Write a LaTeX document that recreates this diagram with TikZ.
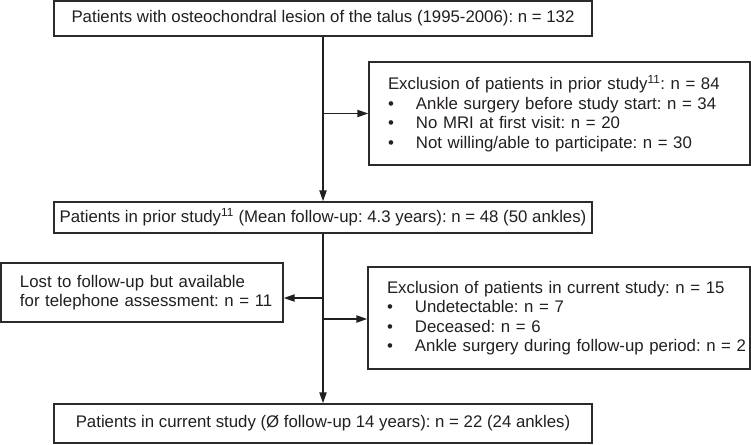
\documentclass[tikz,border=0pt]{standalone}
\usepackage{fontspec}
\setmainfont{Liberation Sans}
\usepackage{tikz}
\usetikzlibrary{arrows.meta, positioning, calc}
\definecolor{mydark}{RGB}{35,31,32}
\definecolor{myline}{RGB}{45,42,43}
\tikzset{
  mainbox/.style={rectangle, draw=myline, fill=white, line width=1.2pt,
    align=center, minimum width=538pt, inner sep=0pt, text=mydark,
    font=\fontsize{16.8}{19.5}\selectfont\frenchspacing},
  listbox/.style={rectangle, draw=myline, fill=white, line width=1.2pt,
    align=left, inner sep=0pt, text=mydark,
    execute at begin node={\leftskip=19pt},
    font=\fontsize{16.8}{19.5}\selectfont\frenchspacing},
  arrow/.style={-{Triangle[length=11pt,width=7pt]}, line width=1.9pt, color=mydark}
}
\newcommand{\bul}{\makebox[28pt][l]{\textbullet}}

\begin{document}
\frenchspacing
\begin{tikzpicture}[x=1pt, y=-1pt]
  \useasboundingbox (0,0) rectangle (751,444);

  \node[mainbox, minimum height=35pt] (total) at (323,18.5)
    {Patients with osteochondral lesion of the talus (1995-2006): n = 132};
  \node[listbox, text width=381pt, minimum height=103pt] (exclprior) at (559.5,113.5)
    {Exclusion of patients in prior study\textsuperscript{11}: n = 84\\
     \bul Ankle surgery before study start: n = 34\\
     \bul No MRI at first visit: n = 20\\
     \bul Not willing/able to participate: n = 30};
  \node[mainbox, minimum height=31pt] (prior) at (323,217.5)
    {Patients in prior study\textsuperscript{11} (Mean follow-up: 4.3 years): n = 48 (50 ankles)};
  \node[listbox, text width=282pt, minimum height=59pt] (lost) at (142,292.5)
    {Lost to follow-up but available\\for telephone assessment: n = 11};
  \node[listbox, text width=382pt, minimum height=102pt] (exclcurr) at (559,318)
    {Exclusion of patients in current study: n = 15\\
     \bul Undetectable: n = 7\\
     \bul Deceased: n = 6\\
     \bul Ankle surgery during follow-up period: n = 2};
  \node[mainbox, minimum height=39pt] (current) at (323,423.5)
    {Patients in current study (\O{} follow-up 14 years): n = 22 (24 ankles)};

  % branch points on the main line
  \coordinate (lostjoin) at (323,298);
  \coordinate (curjoin)  at (323,319);

  \draw[arrow] (total.south) -- (prior.north);
  \draw[arrow] (exclprior.west -| total.south) -- (exclprior.west);
  \draw[arrow] (prior.south) -- (current.north);
  \draw[arrow] (lostjoin) -- (lostjoin -| lost.east);
  \draw[arrow] (curjoin) -- (curjoin -| exclcurr.west);
\end{tikzpicture}
\end{document}
